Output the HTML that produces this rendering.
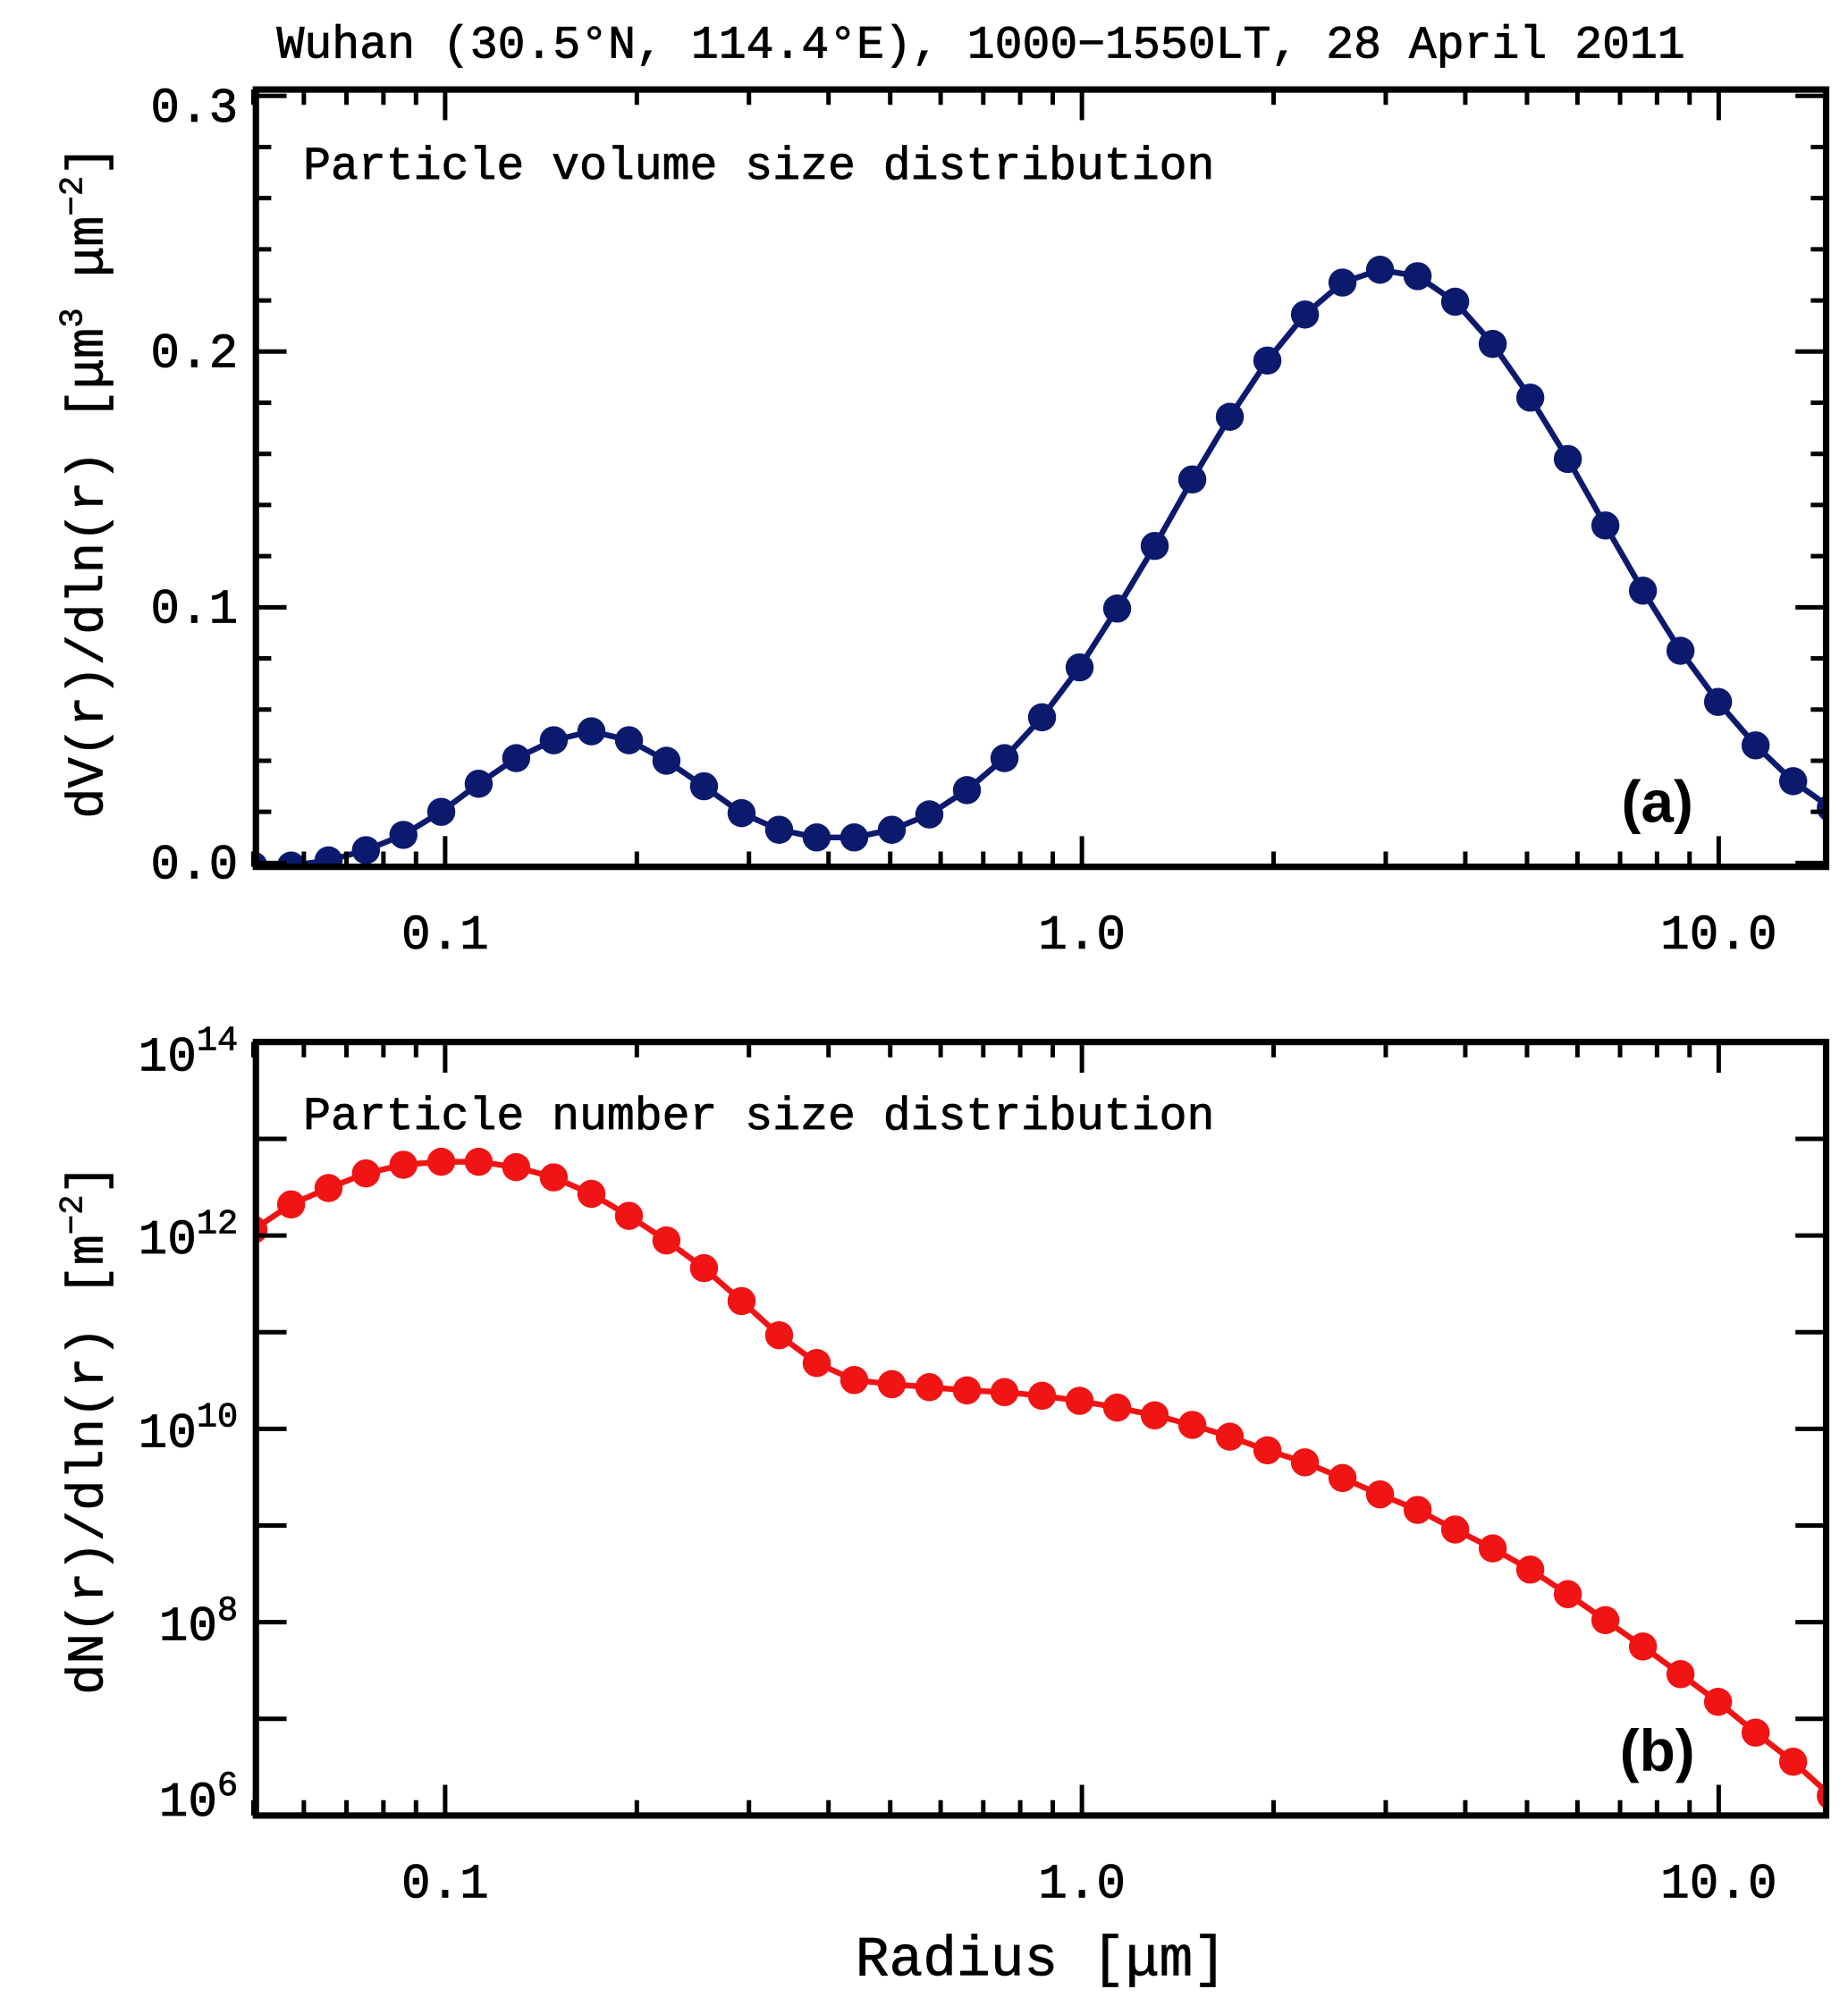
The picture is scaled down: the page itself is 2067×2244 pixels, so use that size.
<!DOCTYPE html>
<html><head><meta charset="utf-8"><style>
html,body{margin:0;padding:0;background:#fff}
svg{display:block}
text{font-family:"Liberation Mono",monospace;fill:#000}
</style></head><body>
<svg id="chart" width="2067" height="2244" viewBox="0 0 1445 1569" xmlns="http://www.w3.org/2000/svg">
<defs>
<clipPath id="ca"><rect x="200" y="70" width="1228" height="608"/></clipPath>
<clipPath id="cb"><rect x="200" y="815" width="1228" height="605"/></clipPath>
</defs>
<text x="767" y="45" text-anchor="middle" font-size="36" stroke="#000" stroke-width="0.6">Wuhan (30.5°N, 114.4°E), 1000−1550LT, 28 April 2011</text>
<g id="pa"></g>
<g id="pb"></g>
</svg>
<script>
const radii=[0.050,0.0573,0.0656,0.0751,0.0860,0.0986,0.1129,0.1293,0.1481,0.1697,0.1944,0.2226,0.2550,0.2921,0.3346,0.3833,0.4390,0.5029,0.5760,0.6598,0.7558,0.8657,0.9917,1.1359,1.3011,1.4904,1.7072,1.9555,2.2399,2.5657,2.9389,3.3664,3.8561,4.4170,5.0594,5.7953,6.6383,7.6039,8.7099,9.9768,11.428,13.090,15.0];
const volume=[-0.001,-0.001,0.001,0.005,0.011,0.020,0.031,0.041,0.048,0.0515,0.048,0.040,0.030,0.0195,0.013,0.010,0.010,0.013,0.019,0.0285,0.041,0.057,0.0765,0.0995,0.124,0.150,0.1745,0.1965,0.2145,0.227,0.232,0.2295,0.2195,0.203,0.182,0.158,0.132,0.1065,0.083,0.063,0.046,0.032,0.0215];
const number=[1.15e12,2.1e12,3.1e12,4.4e12,5.4e12,5.8e12,5.8e12,5.1e12,4.0e12,2.7e12,1.6e12,8.9e11,4.6e11,2.1e11,9.3e10,4.8e10,3.2e10,2.9e10,2.7e10,2.5e10,2.4e10,2.2e10,1.95e10,1.66e10,1.38e10,1.1e10,8.3e9,6.0e9,4.5e9,3.1e9,2.1e9,1.45e9,9.1e8,5.8e8,3.5e8,1.95e8,1.05e8,5.6e7,2.9e7,1.5e7,7.2e6,3.6e6,1.6e6];
const xTickLabels=["0.1","1.0","10.0"];
const xTickValues=[0.1,1,10];
const yTicksA=["0.0","0.1","0.2","0.3"];
const yExpB=[6,8,10,12,14];

const NS="http://www.w3.org/2000/svg";
const L=200,R=1428;
const xs=r=>846+498*Math.log10(r);
function el(p,t,a){const e=document.createElementNS(NS,t);for(const k in a)e.setAttribute(k,a[k]);p.appendChild(e);return e;}

function axesX(g,top,bot){
  for(let d=-2;d<=1;d++)for(let m=1;m<=9;m++){
    const v=m*Math.pow(10,d);if(v<0.05||v>15)continue;const x=xs(v);const len=m===1?24:12;
    const t1=el(g,'line',{x1:x,x2:x,y1:bot,y2:bot-len,stroke:'#000','stroke-width':3.5});
    
    const t2=el(g,'line',{x1:x,x2:x,y1:top,y2:top+len,stroke:'#000','stroke-width':3.5});
    
  }
  xTickLabels.forEach((s,i)=>{const t=el(g,'text',{x:xs(xTickValues[i]),y:bot+64,'text-anchor':'middle','font-size':38,stroke:'#000','stroke-width':0.6});t.textContent=s;
    });
}
function series(g,vals,yf,color,name,clip){
  const pts=radii.map((r,i)=>[xs(r),yf(vals[i])]);
  const cg=el(g,'g',{'clip-path':'url(#'+clip+')'});
  
  const ln=el(cg,'polyline',{points:pts.map(p=>p.join(',')).join(' '),fill:'none',stroke:color,'stroke-width':4.5});
  
  pts.forEach(p=>{const c=el(cg,'circle',{cx:p[0],cy:p[1],r:11,fill:color});
    });
}
// Panel A
const ga=document.getElementById('pa');
const TA=70,BA=678,ya=v=>675-v*2000;
series(ga,volume,ya,'#0c1a6e','volume','ca');
for(let k=0;k<=15;k++){const v=k*0.02;const y=ya(v);if(y<TA)continue;const len=k%5===0?24:12;
  const a=el(ga,'line',{x1:L,x2:L+len,y1:y,y2:y,stroke:'#000','stroke-width':3.5});
  
  const b=el(ga,'line',{x1:R,x2:R-len,y1:y,y2:y,stroke:'#000','stroke-width':3.5});
  }
yTicksA.forEach((s,i)=>{const t=el(ga,'text',{x:186,y:ya(i*0.1)+(i===3?20:12),'text-anchor':'end','font-size':38,stroke:'#000','stroke-width':0.6});t.textContent=s;
  });
axesX(ga,TA,BA);
const fa=el(ga,'rect',{x:L,y:TA,width:R-L,height:BA-TA,fill:'none',stroke:'#000','stroke-width':5});

let t=el(ga,'text',{x:237,y:140,'font-size':36,stroke:'#000','stroke-width':0.6});t.textContent='Particle volume size distribution';

t=el(ga,'text',{x:1296,y:643,'font-size':46,'font-weight':'bold','text-anchor':'middle',style:'font-family:"Liberation Sans",sans-serif'});t.textContent='(a)';

t=el(ga,'text',{transform:'translate(80,377) rotate(-90)','font-size':40,'text-anchor':'middle',stroke:'#000','stroke-width':0.5});
t.innerHTML='dV(r)/dln(r) [μm<tspan dy="-16" font-size="26">3</tspan><tspan dy="16"> μm</tspan><tspan dy="-16" font-size="26">−2</tspan><tspan dy="16">]</tspan>';

// Panel B
const gb=document.getElementById('pb');
const TB=815,BB=1420,yb=v=>1420-(Math.log10(v)-6)*75.6;
series(gb,number,yb,'#f01414','number','cb');
for(let e=6;e<=14;e++){const y=yb(Math.pow(10,e));
  const a=el(gb,'line',{x1:L,x2:L+24,y1:y,y2:y,stroke:'#000','stroke-width':3.5});
  
  const b=el(gb,'line',{x1:R,x2:R-24,y1:y,y2:y,stroke:'#000','stroke-width':3.5});
  }
yExpB.forEach(e=>{const t=el(gb,'text',{x:186,y:yb(Math.pow(10,e))+(e===14?22:e===6?0:14),'text-anchor':'end','font-size':38,stroke:'#000','stroke-width':0.6});
  t.innerHTML='10<tspan dy="-16" font-size="27">'+e+'</tspan>';
  });
axesX(gb,TB,BB);
const fb=el(gb,'rect',{x:L,y:TB,width:R-L,height:BB-TB,fill:'none',stroke:'#000','stroke-width':5});

t=el(gb,'text',{x:237,y:883,'font-size':36,stroke:'#000','stroke-width':0.6});t.textContent='Particle number size distribution';

t=el(gb,'text',{x:1296,y:1385,'font-size':46,'font-weight':'bold','text-anchor':'middle',style:'font-family:"Liberation Sans",sans-serif'});t.textContent='(b)';

t=el(gb,'text',{transform:'translate(80,1118) rotate(-90)','font-size':40,'text-anchor':'middle',stroke:'#000','stroke-width':0.5});
t.innerHTML='dN(r)/dln(r) [m<tspan dy="-16" font-size="26">−2</tspan><tspan dy="16">]</tspan>';

t=el(gb,'text',{x:814,y:1545,'font-size':44,'text-anchor':'middle',stroke:'#000','stroke-width':0.5});t.textContent='Radius [μm]';

</script>
</body></html>
